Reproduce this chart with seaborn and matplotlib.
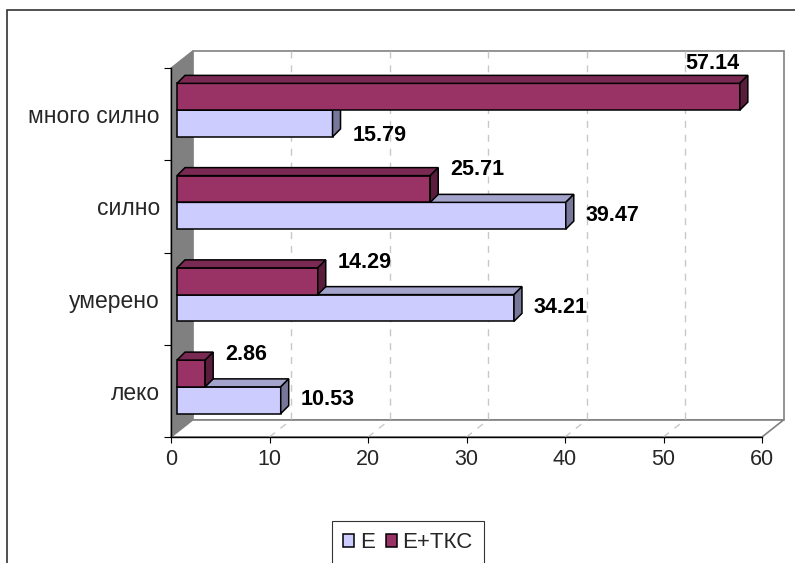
import matplotlib
matplotlib.use("Agg")
import matplotlib.pyplot as plt
import pandas as pd
import seaborn as sns
from matplotlib.patches import Polygon, Rectangle, Patch
from matplotlib.lines import Line2D

# ---- data -------------------------------------------------------------
levels = ["много силно", "силно", "умерено", "леко"]
group_names = ["E", "E+ТКС"]
values_e = [15.79, 39.47, 34.21, 10.53]
values_etks = [57.14, 25.71, 14.29, 2.86]
x_ticks = [0, 10, 20, 30, 40, 50, 60]

df = pd.DataFrame({
    "level": levels * 2,
    "group": [group_names[0]] * len(levels) + [group_names[1]] * len(levels),
    "value": values_e + values_etks,
})

# ---- style ------------------------------------------------------------
front_col = {"E": "#ccccff", "E+ТКС": "#993366"}
top_col = {"E": "#a3a3cc", "E+ТКС": "#7a2952"}
side_col = {"E": "#77779a", "E+ТКС": "#5a1e3c"}

W, H, DPI = 795, 563, 100
sns.set_theme(style="white")
plt.rcParams["font.family"] = ["Liberation Sans", "DejaVu Sans"]
plt.rcParams["lines.scale_dashes"] = False

fig = plt.figure(figsize=(W / DPI, H / DPI), dpi=DPI)
fig.patch.set_facecolor("white")

# front plane of the 3-D frame, in pixels
L, R, T, B = 171, 762, 68, 437
ax = fig.add_axes([L / W, 1 - B / H, (R - L) / W, (B - T) / H])

sns.barplot(data=df, y="level", x="value", hue="group",
            hue_order=["E+ТКС", "E"], order=levels, palette=front_col,
            width=0.58, orient="h", ax=ax, legend=False,
            edgecolor="black", linewidth=1.1, saturation=1)

ax.set_xlim(0, 60)
ax.set_ylim(len(levels) - 0.5, -0.5)
ax.set_xlabel("")
ax.set_ylabel("")

kx = (R - L) / 60.0            # px per value unit
ky = (B - T) / len(levels)     # px per category


def dx(px):
    return px / kx


def dy_up(px):
    # y axis is inverted: moving up means smaller data values
    return -px / ky


y_top, y_bot = -0.5, len(levels) - 0.5
x_max = 60

# ---- 3-D frame: side wall, floor, back wall ---------------------------
WX, WY = 21.5, 17   # depth of the chart box in px
side_wall = Polygon([(0, y_bot), (0, y_top), (dx(WX), y_top + dy_up(WY)),
                     (dx(WX), y_bot + dy_up(WY))], closed=True,
                    facecolor="#808080", edgecolor="#808080", lw=0.8,
                    clip_on=False, zorder=0.5)
ax.add_patch(side_wall)
floor = Polygon([(0, y_bot), (x_max, y_bot), (x_max + dx(WX), y_bot + dy_up(WY)),
                 (dx(WX), y_bot + dy_up(WY))], closed=True,
                facecolor="white", edgecolor="#808080", lw=1.2,
                clip_on=False, zorder=0.5)
ax.add_patch(floor)
back = Rectangle((dx(WX), y_top + dy_up(WY)), x_max, y_bot - y_top,
                 facecolor="white", edgecolor="#808080", lw=1.2,
                 clip_on=False, zorder=0.4)
ax.add_patch(back)

for xv in x_ticks[1:-1]:
    ax.add_line(Line2D([xv + dx(WX), xv + dx(WX)],
                       [y_top + dy_up(WY), y_bot + dy_up(WY)],
                       color="#c8c8c8", lw=1.0, dashes=(5, 5),
                       clip_on=False, zorder=0.8))
    ax.add_line(Line2D([xv, xv + dx(WX)], [y_bot, y_bot + dy_up(WY)],
                       color="#c8c8c8", lw=1.0, dashes=(5, 5),
                       clip_on=False, zorder=0.8))

# ---- 3-D bars ---------------------------------------------------------
BX, BY = 6, 4   # bars sit slightly behind the front plane
D = 8           # bar depth in px
hue_order = ["E+ТКС", "E"]
label_items = []
for container, g in zip(ax.containers, hue_order):
    z = 4 if g == "E+ТКС" else 3
    for i, p in enumerate(container.patches):
        x0 = p.get_x() + dx(BX)
        y0 = p.get_y() + dy_up(BY)
        w, h = p.get_width(), p.get_height()
        x1 = x0 + w
        p.set_x(x0)
        p.set_y(y0)
        p.set_zorder(z)
        p.set_clip_on(False)
        topface = Polygon([(x0, y0), (x1, y0), (x1 + dx(D), y0 + dy_up(D)),
                           (x0 + dx(D), y0 + dy_up(D))], closed=True,
                          facecolor=top_col[g], edgecolor="black", lw=1.1,
                          clip_on=False, zorder=z)
        sideface = Polygon([(x1, y0), (x1, y0 + h), (x1 + dx(D), y0 + h + dy_up(D)),
                            (x1 + dx(D), y0 + dy_up(D))], closed=True,
                           facecolor=side_col[g], edgecolor="black", lw=1.1,
                           clip_on=False, zorder=z)
        ax.add_patch(topface)
        ax.add_patch(sideface)
        label_items.append((g, i, w, x1, y0))

# ---- value labels -----------------------------------------------------
texts = []
for g, i, val, x1, y0 in label_items:
    off = -36.5 if g == "E+ТКС" else 9
    t = ax.text(x1 + dx(D) + dx(12), i + dy_up(-off), f"{val:.2f}",
                ha="left", va="center", fontsize=15.5, fontweight="bold",
                color="black", zorder=6, clip_on=False)
    texts.append((t, x1, y0, g, i))

fig.canvas.draw()
renderer = fig.canvas.get_renderer()
moved = set()
for t, x1, y0, g, i in texts:
    bb = t.get_window_extent(renderer)
    if bb.x1 > W - 4:
        # no room to the right: put the label above the bar's top face
        t.set_position((x1, y0 + dy_up(D) + dy_up(1)))
        t.set_ha("right")
        t.set_va("bottom")
        moved.add(i)
# the partner label drops a bit when its neighbour is lifted
for t, x1, y0, g, i in texts:
    if g == "E" and i in moved:
        xx, yy = t.get_position()
        t.set_position((xx, yy + dy_up(-12)))

# ---- axes, ticks ------------------------------------------------------
for s in ["top", "right"]:
    ax.spines[s].set_visible(False)
for s in ["left", "bottom"]:
    ax.spines[s].set_color("black")
    ax.spines[s].set_linewidth(1.0)
    ax.spines[s].set_zorder(2.6)
ax.patch.set_visible(False)

ax.set_xticks(x_ticks)
ax.set_xticklabels([str(v) for v in x_ticks])
ax.tick_params(axis="x", direction="out", length=4.3, width=0.8,
               color="black", labelsize=15.5, pad=4, bottom=True)

ax.set_yticks([k - 0.5 for k in range(len(levels) + 1)])
ax.set_yticklabels([])
ax.set_yticks(range(len(levels)), minor=True)
ax.set_yticklabels(levels, minor=True)
ax.tick_params(axis="y", which="major", direction="out", length=5,
               width=0.8, color="black", left=True)
ax.tick_params(axis="y", which="minor", length=0, pad=8, labelsize=16.5)

# ---- legend -----------------------------------------------------------
handles = [Patch(facecolor=front_col[g], edgecolor="black", lw=1.1, label=g)
           for g in group_names]
leg = fig.legend(handles=handles, loc="upper left",
                 bbox_to_anchor=(332 / W, 1 - 521 / H), ncol=2,
                 frameon=True, fancybox=False, fontsize=16,
                 handlelength=0.5, handleheight=0.5, handletextpad=0.25,
                 columnspacing=0.5, borderpad=0.5, borderaxespad=0)
leg.get_frame().set_edgecolor("black")
leg.get_frame().set_linewidth(0.8)

# ---- chart-area border -----------------------------------------------
fig.add_artist(Rectangle((7 / W, -0.1), 1.2, 1.1 - 10 / H,
                         transform=fig.transFigure, fill=False,
                         edgecolor="#333333", lw=1.2, clip_on=False))

fig.savefig("out.png", dpi=DPI)
